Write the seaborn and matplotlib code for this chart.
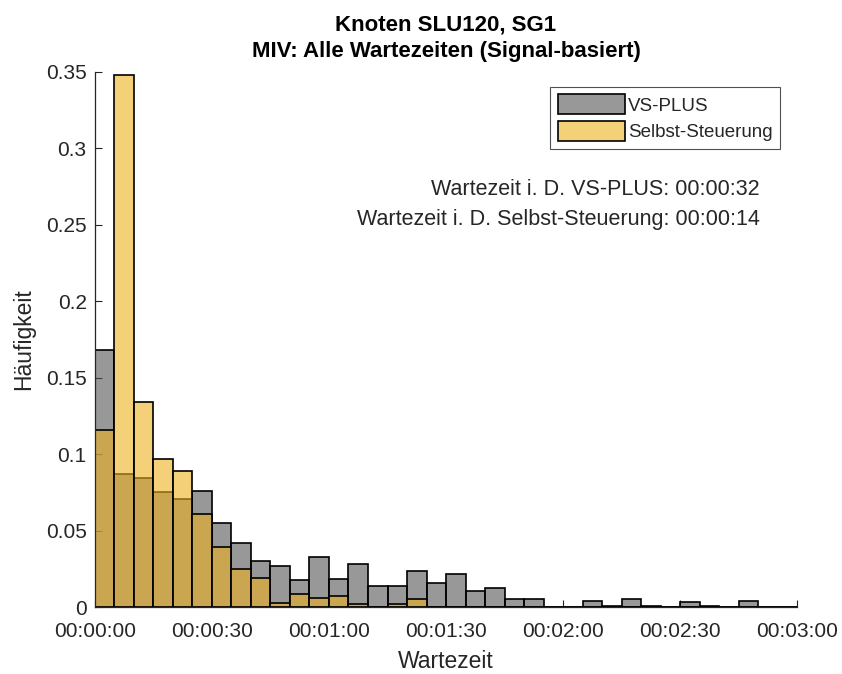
import matplotlib
matplotlib.use("Agg")
import matplotlib.pyplot as plt
import numpy as np
import seaborn as sns

# bins of 5 seconds, 0..180 s
bin_edges = list(range(0, 185, 5))

# relative frequency per bin
vs_plus = [0.168, 0.087, 0.0845, 0.075, 0.0705, 0.076, 0.055, 0.042, 0.030, 0.027,
           0.0175, 0.0327, 0.018, 0.0283, 0.0135, 0.0135, 0.0233, 0.0157, 0.0218, 0.0105,
           0.0126, 0.005, 0.0055, 0.0, 0.0, 0.0037, 0.0008, 0.005, 0.0008, 0.0,
           0.003, 0.0008, 0.0, 0.004, 0.0, 0.0]
selbst = [0.116, 0.348, 0.134, 0.097, 0.089, 0.061, 0.039, 0.025, 0.0187, 0.0028,
          0.0082, 0.0058, 0.0072, 0.0017, 0.0, 0.0017, 0.005, 0.0, 0.0, 0.0,
          0.0, 0.0, 0.0, 0.0, 0.0, 0.0, 0.0, 0.0, 0.0, 0.0,
          0.0, 0.0, 0.0, 0.0, 0.0, 0.0]

x_ticks = [0, 30, 60, 90, 120, 150, 180]
x_tick_labels = ["00:00:00", "00:00:30", "00:01:00", "00:01:30", "00:02:00", "00:02:30", "00:03:00"]
y_ticks = [0, 0.05, 0.1, 0.15, 0.2, 0.25, 0.3, 0.35]
y_tick_labels = ["0", "0.05", "0.1", "0.15", "0.2", "0.25", "0.3", "0.35"]

sns.set_style("white")
plt.rcParams['font.family'] = ['Liberation Sans', 'DejaVu Sans']

fig = plt.figure(figsize=(8.42, 6.74), dpi=100)
ax = fig.add_axes([0.1128, 0.0994, 0.8338, 0.7938])

# bin centres for the weighted histogram
centers = [e + 2.5 for e in bin_edges[:-1]]

gray = (0.33, 0.33, 0.33)
yellow = (0.929, 0.694, 0.125)

sns.histplot(x=centers, weights=vs_plus, bins=bin_edges, color=gray, alpha=0.6,
             edgecolor='black', linewidth=1.2, ax=ax, label='VS-PLUS')
sns.histplot(x=centers, weights=selbst, bins=bin_edges, color=yellow, alpha=0.6,
             edgecolor='black', linewidth=1.2, ax=ax, label='Selbst-Steuerung')

ax.set_xlim(0, 180)
ax.set_ylim(0, 0.35)
ax.set_xticks(x_ticks)
ax.set_xticklabels(x_tick_labels)
ax.set_yticks(y_ticks)
ax.set_yticklabels(y_tick_labels)

text_col = '#262626'
ax.tick_params(direction='in', length=5, width=0.8, labelsize=15, colors=text_col,
               bottom=True, left=True)
ax.tick_params(axis='x', pad=11)
ax.tick_params(axis='y', pad=6)
for s in ['top', 'right']:
    ax.spines[s].set_visible(False)
for s in ['left', 'bottom']:
    ax.spines[s].set_color(text_col)
    ax.spines[s].set_linewidth(0.9)

ax.set_xlabel("Wartezeit", fontsize=16.5, color=text_col, labelpad=6)
ax.set_ylabel("Häufigkeit", fontsize=16.5, color=text_col, labelpad=8)
ax.set_title("Knoten SLU120, SG1\nMIV: Alle Wartezeiten (Signal-basiert)",
             fontsize=16, fontweight='bold', color='black', pad=11, linespacing=1.35)

leg = ax.legend(loc='upper right', bbox_to_anchor=(0.976, 0.972), borderaxespad=0,
                fontsize=13.5, frameon=True, fancybox=False, handlelength=3.6,
                handleheight=1.25, handletextpad=0.15, borderpad=0.4, labelspacing=0.35)
leg.get_frame().set_edgecolor(text_col)
leg.get_frame().set_linewidth(0.8)

ax.text(0.947, 0.78, "Wartezeit i. D. VS-PLUS: 00:00:32", transform=ax.transAxes,
        ha='right', va='center', fontsize=15.5, color=text_col)
ax.text(0.947, 0.724, "Wartezeit i. D. Selbst-Steuerung: 00:00:14", transform=ax.transAxes,
        ha='right', va='center', fontsize=15.5, color=text_col)

plt.savefig("out.png", dpi=100)
